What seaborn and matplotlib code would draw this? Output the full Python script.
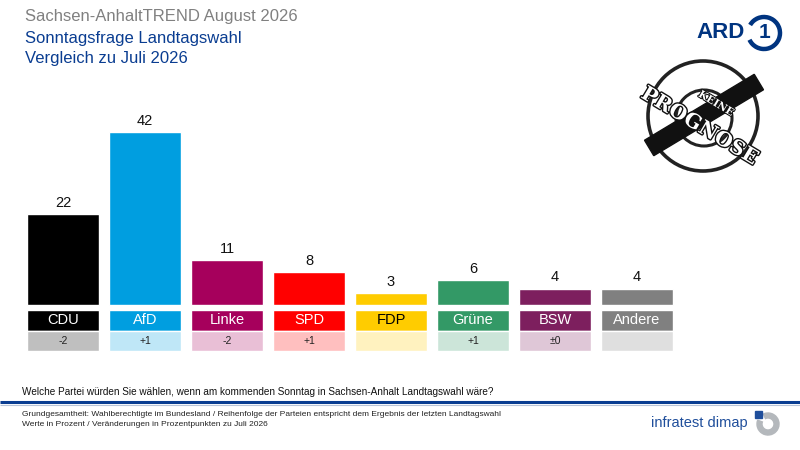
import numpy as np
import pandas as pd
import matplotlib
matplotlib.use("Agg")
import matplotlib.pyplot as plt
import matplotlib.patches as mpatches
import matplotlib.patheffects as pe
import seaborn as sns

# data
parties = ['CDU', 'AfD', 'Linke', 'SPD', 'FDP', 'Grüne', 'BSW', 'Andere']
values = [22, 42, 11, 8, 3, 6, 4, 4]
changes = ['-2', '+1', '-2', '+1', '', '+1', '±0', '']
bar_colors = ['#000000', '#009ee0', '#a6005c', '#ff0000', '#ffcc00', '#339966', '#7d1f5e', '#808080']
light_colors = ['#bfbfbf', '#bfe7f7', '#e9bfd6', '#ffbfbf', '#fff2bf', '#cce5d9', '#dfc7d7', '#dfdfdf']
name_colors = ['white', 'white', 'white', 'white', 'black', 'white', 'white', 'white']

sns.set_theme(style='white')
plt.rcParams['font.family'] = ['Liberation Sans', 'DejaVu Sans']

df = pd.DataFrame({'Partei': parties, 'Wert': values})

fig = plt.figure(figsize=(8, 4.5), dpi=100)
fig.patch.set_facecolor('white')

W, H = 800, 450
px_per_unit = 173 / 42
base_y = 305
ax_top, ax_bot = 100, 355
ax = fig.add_axes([22 / W, 1 - ax_bot / H, (678 - 22) / W, (ax_bot - ax_top) / H])
sns.barplot(data=df, x='Partei', y='Wert', hue='Partei', palette=bar_colors,
            order=parties, width=0.88, legend=False, ax=ax, saturation=1)
ax.set_xlim(-0.5, len(parties) - 0.5)
ax.set_ylim(-(ax_bot - base_y) / px_per_unit, (base_y - ax_top) / px_per_unit)
ax.axis('off')

# boxes under the bars
def yval(py):
    return (base_y - py) / px_per_unit

name_top, name_bot, chg_bot = yval(310), yval(331), yval(351)
x = np.arange(len(parties))
ax.bar(x, name_top - name_bot, bottom=name_bot, width=0.88, color=bar_colors)
ax.bar(x, name_bot - chg_bot, bottom=chg_bot, width=0.88, color=light_colors)

for i, (p, v, c) in enumerate(zip(parties, values, changes)):
    ax.text(i, v + 1.0, str(v), ha='center', va='bottom', fontsize=10.5, color='#111111')
    ax.text(i, (name_top + name_bot) / 2, p, ha='center', va='center', fontsize=10.5,
            color=name_colors[i])
    ax.text(i, (name_bot + chg_bot) / 2, c, ha='center', va='center', fontsize=7.5,
            color='#222222')

# overlay for header / footer / logos
ov = fig.add_axes([0, 0, 1, 1], zorder=-1)
ov.set_xlim(0, W)
ov.set_ylim(H, 0)
ov.axis('off')

ov.text(25, 17, 'Sachsen-AnhaltTREND August 2026', fontsize=12, color='#808080', va='center')
ov.text(25, 39, 'Sonntagsfrage Landtagswahl', fontsize=12, color='#0a3d91', va='center')
ov.text(25, 59, 'Vergleich zu Juli 2026', fontsize=12, color='#0a3d91', va='center')

ov.text(22, 392, 'Welche Partei würden Sie wählen, wenn am kommenden Sonntag in Sachsen-Anhalt Landtagswahl wäre?',
        fontsize=7.2, color='#111111', va='center')
ov.plot([0, W], [402, 402], color='#0a3d91', lw=2.2, solid_capstyle='butt')
ov.plot([0, W], [404.5, 404.5], color='#b8c4d8', lw=0.8, solid_capstyle='butt')
ov.text(22, 414, 'Grundgesamtheit: Wahlberechtigte im Bundesland / Reihenfolge der Parteien entspricht dem Ergebnis der letzten Landtagswahl',
        fontsize=6.0, color='#222222', va='center')
ov.text(22, 424, 'Werte in Prozent / Veränderungen in Prozentpunkten zu Juli 2026',
        fontsize=6.0, color='#222222', va='center')

# infratest dimap logo
ov.text(748, 423, 'infratest dimap', fontsize=10.5, color='#1f4e9b', ha='right', va='center')
ov.add_patch(mpatches.Wedge((768, 424), 11, 245, 200, width=5, color='#b4b8bc'))
ov.add_patch(mpatches.Rectangle((755, 411), 7, 7, color='#1f4e9b'))

# ARD logo
ov.text(696, 32, 'ARD', fontsize=16, fontweight='bold', color='#003480', va='center')
ov.add_patch(mpatches.Arc((764, 33), 32, 32, theta1=-150, theta2=155, lw=3.2, color='#003480'))
ov.text(764, 33, '1', fontsize=15, fontweight='bold', color='#003480', ha='center', va='center')

# stamp "KEINE PROGNOSE"
ov.add_patch(mpatches.Circle((703, 116), 55, fill=False, lw=2.6, ec='#222222'))
ov.add_patch(mpatches.Circle((704, 118), 28, fill=False, lw=2.2, ec='#222222'))
band = mpatches.Rectangle((640, 106), 128, 18, angle=-31, rotation_point='center',
                          color='#111111')
ov.add_patch(band)
ov.text(716, 104, 'KEINE', fontsize=7.5, fontweight='bold', color='white', rotation=-31,
        ha='center', va='center', family='DejaVu Serif',
        path_effects=[pe.withStroke(linewidth=1.5, foreground='#111111')])
ov.text(700, 126, 'PROGNOSE', fontsize=14.5, fontweight='bold', color='white', rotation=-31,
        ha='center', va='center', family='DejaVu Serif',
        path_effects=[pe.withStroke(linewidth=2, foreground='#111111')])

fig.savefig('out.png', dpi=100, facecolor='white')
